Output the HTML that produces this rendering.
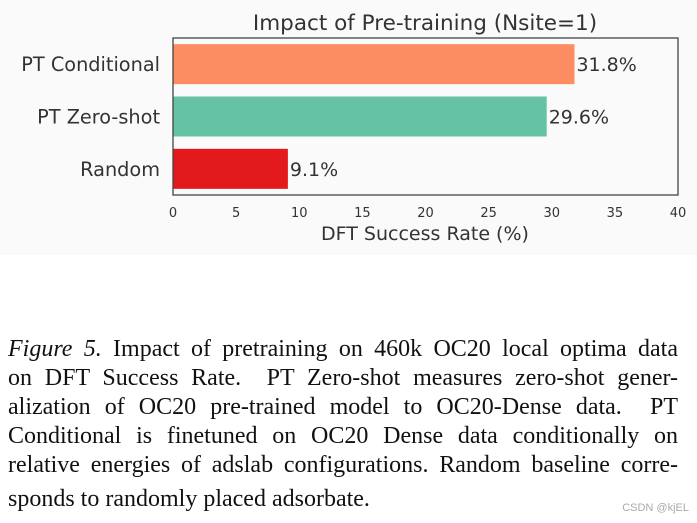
<!DOCTYPE html>
<html><head><meta charset="utf-8"><style>
body{margin:0;width:697px;height:523px;background:#fff;overflow:hidden;position:relative}
svg text{font-family:"DejaVu Sans","Liberation Sans",sans-serif;fill:#333}
.cap{position:absolute;left:8px;width:670px;font-family:"Liberation Serif",serif;font-size:24px;color:#111}
.cap div{height:29px;line-height:29px;text-align:justify;text-align-last:justify;white-space:nowrap}
.cap div.last{text-align-last:left;margin-top:5px}
</style></head><body>
<svg id="chart" width="697" height="260" style="position:absolute;left:0;top:0">
<rect x="0" y="0" width="697" height="255" fill="#fafafa"/>
<text x="425" y="30" text-anchor="middle" font-size="21.5">Impact of Pre-training (Nsite=1)</text>
<g id="bars"></g>
<rect x="173" y="38" width="505" height="157" fill="none" stroke="#444" stroke-width="1.3"/>
<g id="ticks"></g>
<text x="425" y="240" text-anchor="middle" font-size="19">DFT Success Rate (%)</text>
</svg>
<div class="cap" style="top:335px">
<div><i>Figure 5.</i> Impact of pretraining on 460k OC20 local optima data</div>
<div>on DFT Success Rate.&nbsp; PT Zero-shot measures zero-shot gener-</div>
<div>alization of OC20 pre-trained model to OC20-Dense data.&nbsp; PT</div>
<div>Conditional is finetuned on OC20 Dense data conditionally on</div>
<div>relative energies of adslab configurations. Random baseline corre-</div>
<div class="last">sponds to randomly placed adsorbate.</div>
</div>
<div style="position:absolute;right:8px;top:502px;font-family:'Liberation Sans',sans-serif;font-size:11px;color:#aaa">CSDN @kjEL</div>
<script>
const categories=["PT Conditional","PT Zero-shot","Random"];
const values=[31.8,29.6,9.1];
const colors=["#fc8d62","#66c2a5","#e31a1c"];
const xTicks=[0,5,10,15,20,25,30,35,40];
const NS="http://www.w3.org/2000/svg";
const x0=173,x1=678,xmax=40,plotTop=38,bandH=157/3;
const xs=v=>x0+(v/xmax)*(x1-x0);
const bars=document.getElementById('bars');
categories.forEach((c,i)=>{
  const yc=plotTop+bandH*(i+0.5);
  const r=document.createElementNS(NS,'rect');
  r.setAttribute('x',x0);r.setAttribute('y',yc-20);
  r.setAttribute('width',xs(values[i])-x0);r.setAttribute('height',40);
  r.setAttribute('fill',colors[i]);
  
  
  bars.appendChild(r);
  const t=document.createElementNS(NS,'text');
  t.setAttribute('x',xs(values[i])+2);t.setAttribute('y',yc+7);t.setAttribute('font-size','19');
  t.textContent=values[i].toFixed(1)+'%';
  
  
  bars.appendChild(t);
  const l=document.createElementNS(NS,'text');
  l.setAttribute('x',160);l.setAttribute('y',yc+7);l.setAttribute('font-size','19.3');l.setAttribute('text-anchor','end');
  l.textContent=c;
  
  
  bars.appendChild(l);
});
const tg=document.getElementById('ticks');
xTicks.forEach(v=>{
  const t=document.createElementNS(NS,'text');
  t.setAttribute('x',xs(v));t.setAttribute('y',217);t.setAttribute('font-size','13');t.setAttribute('text-anchor','middle');
  t.textContent=v;
  
  
  tg.appendChild(t);
});
</script>
</body></html>
